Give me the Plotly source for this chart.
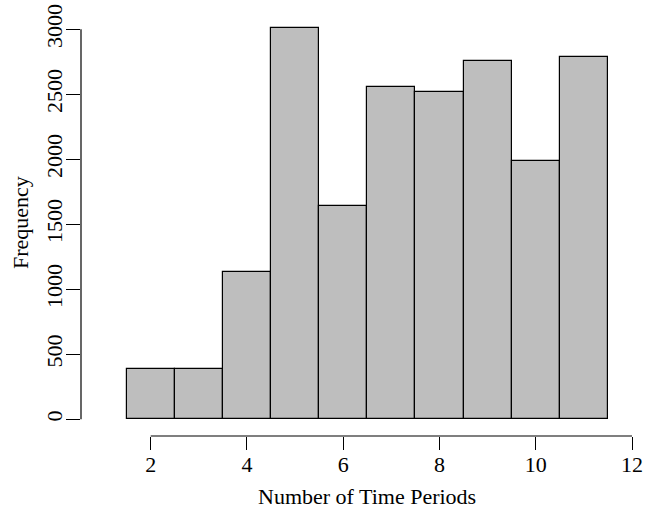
import plotly.graph_objects as go

periods = [2, 3, 4, 5, 6, 7, 8, 9, 10, 11]
frequency = [390, 385, 1135, 3010, 1640, 2560, 2520, 2760, 1985, 2785]
x_ticks = [2, 4, 6, 8, 10, 12]
y_ticks = [0, 500, 1000, 1500, 2000, 2500, 3000]

FONT = "Liberation Serif"
FS = 22

fig = go.Figure()
fig.add_trace(go.Bar(
    x=periods, y=frequency, width=1,
    marker=dict(color="#BEBEBE", line=dict(color="black", width=1.2)),
    showlegend=False, hoverinfo="x+y",
))

# R-style axis lines spanning only the tick range
fig.add_shape(type="line", xref="x", yref="paper", x0=x_ticks[0], x1=x_ticks[-1], y0=0, y1=0,
              line=dict(color="black", width=1.2))
fig.add_shape(type="line", xref="paper", yref="y", x0=0, x1=0, y0=y_ticks[0], y1=y_ticks[-1],
              line=dict(color="black", width=1.2))

fig.update_layout(
    width=648, height=512,
    margin=dict(l=81, r=8, t=10, b=76, autoexpand=False),
    plot_bgcolor="white", paper_bgcolor="white",
    font=dict(family=FONT, size=FS, color="black"),
    bargap=0,
    xaxis=dict(range=[0.552, 12.166], tickvals=x_ticks, ticks="outside", ticklen=13,
               tickwidth=1.2, tickcolor="black", showgrid=False, zeroline=False,
               showline=False, automargin=False, ticklabelstandoff=-4,
               ticklabeloverflow="allow", tickfont=dict(family=FONT, size=FS)),
    yaxis=dict(range=[-128.5, 3148.5], tickvals=y_ticks, ticks="outside", ticklen=14,
               tickwidth=1.2, tickcolor="black", showgrid=False, zeroline=False,
               showline=False, automargin=False, tickangle=-90, ticklabelstandoff=-5,
               ticklabeloverflow="allow", tickfont=dict(family=FONT, size=FS)),
    annotations=[
        dict(text="Number of Time Periods", xref="paper", yref="paper", x=0.5116, y=0,
             yshift=-60, showarrow=False, font=dict(family=FONT, size=FS), yanchor="middle"),
        dict(text="Frequency", xref="paper", yref="paper", x=0, y=0.5, xshift=-61,
             textangle=-90, showarrow=False, font=dict(family=FONT, size=FS), xanchor="center"),
    ],
)

fig.write_html(
    "out.html",
    config={"displayModeBar": False},
    post_script="document.body.style.margin='0';document.body.style.overflow='hidden';",
)
